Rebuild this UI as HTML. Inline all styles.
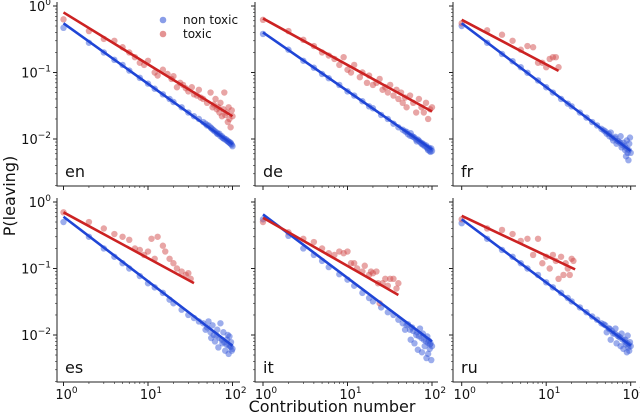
<!DOCTYPE html>
<html><head><meta charset="utf-8">
<style>
html,body{margin:0;padding:0;background:#fff;}
svg{display:block;font-family:"DejaVu Sans","Liberation Sans",sans-serif;}
</style></head>
<body>
<svg id="chart" width="640" height="414" viewBox="0 0 640 414" xmlns="http://www.w3.org/2000/svg">
<text x="0" y="0" transform="translate(15,196) rotate(-90)" text-anchor="middle" font-size="16" fill="#111">P(leaving)</text>
<text x="332" y="412" text-anchor="middle" font-size="16" fill="#111">Contribution number</text>
<g>
<circle cx="163" cy="20" r="3.3" fill="#3a5bd9" fill-opacity="0.6"/>
<text x="183" y="24" font-size="12" fill="#111">non toxic</text>
<circle cx="163" cy="34" r="3.3" fill="#d24b4b" fill-opacity="0.6"/>
<text x="183" y="38" font-size="12" fill="#111">toxic</text>
</g>
</svg>
<script>
const langs = ["en","de","fr","es","it","ru"];
const blueX = [1,2,3,4,5,6,8,10,12,15,18,20,25,30,35,40,45,50,55,60,65,70,75,80,85,90,95,100];
const blueY = {
 en:[.47,.28,.20,.155,.13,.107,.083,.068,.057,.047,.040,.036,.030,.025,.022,.020,.018,.016,.015,.0135,.0125,.012,.011,.0102,.0098,.0092,.0088,.0078],
 de:[.38,.22,.15,.118,.095,.082,.065,.052,.045,.037,.031,.029,.023,.020,.017,.015,.0138,.0128,.0112,.0108,.0098,.0094,.0085,.0083,.0080,.0073,.0070,.0066],
 fr:[.50,.28,.19,.148,.12,.099,.076,.060,.050,.040,.034,.031,.025,.021,.018,.016,.0142,.013,.012,.0105,.0102,.0093,.0088,.0081,.0078,.0072,.0068,.0062],
 es:[.50,.30,.20,.15,.12,.10,.077,.060,.052,.043,.034,.030,.024,.020,.018,.016,.015,.013,.011,.010,.0098,.0090,.0085,.0078,.0072,.0070,.0066,.0062],
 it:[.55,.31,.20,.16,.13,.105,.082,.068,.055,.043,.036,.032,.026,.022,.020,.017,.015,.014,.012,.0115,.010,.0096,.009,.0085,.008,.0076,.0072,.0068],
 ru:[.48,.28,.19,.15,.12,.10,.08,.062,.052,.043,.036,.032,.026,.022,.019,.017,.015,.014,.0125,.0115,.0105,.0098,.0092,.0086,.0080,.0076,.0072,.0068]
};
const tailX = [48,52,56,58,62,66,68,72,76,78,82,86,88,90,92,94,96,98];
const tailY = {
 en:[.017,.016,.0145,.014,.013,.012,.0118,.011,.0105,.0102,.0098,.0094,.0092,.009,.0088,.0086,.0084,.0082],
 de:[.013,.0118,.0122,.011,.0105,.0092,.0098,.009,.0087,.0082,.0078,.0076,.0072,.0068,.0074,.0066,.0064,.0072],
 fr:[.0135,.012,.011,.0125,.0095,.0108,.0085,.0092,.011,.0075,.0088,.0068,.0055,.0095,.0062,.0048,.0085,.0105],
 es:[.012,.016,.009,.014,.008,.012,.0065,.015,.0075,.011,.0058,.0085,.010,.0052,.0095,.0068,.0078,.0058],
 it:[.012,.0145,.0085,.013,.0075,.011,.006,.0125,.0055,.0105,.0068,.0045,.0095,.0052,.0082,.0062,.0075,.0042],
 ru:[.0145,.011,.0125,.0085,.0105,.0125,.0075,.0095,.0068,.0105,.0062,.0085,.0072,.0055,.0098,.0065,.0058,.0078]
};
const redX = {
 en:[1,2,3,4,5,6,7,8,9,10,12,13,15,17,19,20,22,24,26,28,30,33,35,38,40,42,45,50,55,58,60,63,65,68,70,72,75,78,80,82,85,88,90,92,95,98,100],
 de:[1,2,3,4,5,6,7,8,9,10,11,12,14,15,17,18,20,22,24,26,28,30,32,35,38,40,43,45,48,50,55,60,65,70,75,80,85,90,95,100],
 fr:[1,2,3,4,5,6,7,8,9,10,11,12,13,14],
 es:[1,2,3,4,5,6,7,8,9,10,11,12,13,15,16,18,20,22,25,28,30,32],
 it:[1,2,3,4,5,6,7,8,9,10,11,12,13,15,16,18,19,20,22,23,24,26,28,30,32,35,38,40],
 ru:[1,2,3,4,5,6,7,8,9,10,11,12,13,14,15,16,17,18,19,20,21]
};
const redY = {
 en:[.63,.42,.32,.30,.24,.20,.17,.14,.13,.15,.10,.09,.11,.095,.08,.088,.06,.07,.065,.058,.052,.06,.047,.045,.055,.042,.04,.035,.05,.03,.033,.04,.028,.03,.025,.035,.022,.028,.05,.023,.025,.018,.03,.02,.015,.027,.022],
 de:[.62,.42,.31,.25,.20,.18,.16,.13,.17,.11,.10,.13,.085,.10,.07,.09,.065,.07,.08,.055,.06,.05,.065,.045,.055,.04,.05,.035,.042,.03,.045,.035,.025,.04,.03,.025,.035,.02,.028,.03],
 fr:[.55,.43,.37,.30,.22,.25,.24,.14,.14,.12,.16,.17,.17,.12],
 es:[.70,.50,.40,.33,.30,.27,.20,.19,.16,.18,.28,.14,.30,.22,.18,.14,.12,.10,.09,.08,.085,.07],
 it:[.50,.35,.28,.25,.20,.17,.16,.18,.17,.18,.12,.12,.10,.09,.11,.08,.09,.085,.09,.06,.03,.06,.07,.055,.07,.07,.05,.06],
 ru:[.55,.40,.38,.33,.26,.28,.16,.28,.12,.15,.10,.16,.13,.07,.15,.08,.12,.10,.08,.14,.13]
};
const blueA = [.55,.40,.55,.60,.65,.55];
const blueB = [-.91,-.88,-.96,-.97,-.955,-.95];
const redA = [.80,.65,.62,.70,.58,.62];
const redB = [-.78,-.70,-.67,-.69,-.725,-.60];
const redXmax = [100,100,14,35,40,22];
const majorTicks = [1,10,100];
const yMajor = [1,0.1,0.01];
const tickLabels = ["0","1","2"];
const yTickLabels = ["0","−1","−2"];

const NS = "http://www.w3.org/2000/svg";
const svg = document.getElementById("chart");
const spineX = [57,255,453];
const x1 = [63.5,263,461.7];
const rowTop = [6,202];
const DX = 84.5, DY = 66.5, H = 180, W = 183;
function mk(tag, attrs, parent){const e=document.createElementNS(NS,tag);for(const k in attrs)e.setAttribute(k,attrs[k]);(parent||svg).appendChild(e);return e;}

langs.forEach((lang,i)=>{
  const c=i%3, r=Math.floor(i/3);
  const xs=v=>x1[c]+Math.log10(v)*DX;
  const ys=v=>rowTop[r]-Math.log10(v)*DY;
  const g=mk("g",{});
  
  
  const bot=rowTop[r]+H;
  const ax=mk("path",{d:`M${spineX[c]},${rowTop[r]-4}V${bot}H${spineX[c]+W}`,stroke:"#222","stroke-width":1,fill:"none"},g);
  
  
  for(let d=0;d<=2;d++){for(let m=1;m<=9;m++){const v=Math.pow(10,d)*m; if(v>100)break; const px=xs(v); if(px>spineX[c]+W)break;
    mk("line",{x1:px,x2:px,y1:bot,y2:bot+(m===1?4:2),stroke:"#222","stroke-width":m===1?1:0.6},g);}}
  for(let d=0;d>=-3;d--){for(let m=1;m<=9;m++){const v=Math.pow(10,d)*m; if(v>1.01)break; const py=ys(v); if(py>bot)continue;
    mk("line",{x1:spineX[c]-(m===1?4:2),x2:spineX[c],y1:py,y2:py,stroke:"#222","stroke-width":m===1?1:0.6},g);}}
  if(c===0){yMajor.forEach((v,k)=>{const t=mk("text",{x:spineX[c]-6,y:ys(v)+5,"text-anchor":"end","font-size":13,fill:"#111"},g);
    
    
    t.innerHTML=`10<tspan dy="-6" font-size="9">${yTickLabels[k]}</tspan>`;});}
  if(r===1){majorTicks.forEach((v,k)=>{const t=mk("text",{x:xs(v)+3,y:bot+17,"text-anchor":"middle","font-size":13,fill:"#111"},g);
    
    
    t.innerHTML=`10<tspan dy="-6" font-size="9">${tickLabels[k]}</tspan>`;});}
  blueX.forEach((v,k)=>{const p=mk("circle",{cx:xs(v),cy:ys(blueY[lang][k]),r:3.2,fill:"#3a5bd9","fill-opacity":0.5},g);
    
    });
  tailX.forEach((v,k)=>{const p=mk("circle",{cx:xs(v),cy:ys(tailY[lang][k]),r:3.2,fill:"#3a5bd9","fill-opacity":0.5},g);
    
    });
  redX[lang].forEach((v,k)=>{const p=mk("circle",{cx:xs(v),cy:ys(redY[lang][k]),r:3.2,fill:"#d24b4b","fill-opacity":0.5},g);
    
    });
  const bl=mk("line",{x1:xs(1),y1:ys(blueA[i]),x2:xs(100),y2:ys(blueA[i]*Math.pow(100,blueB[i])),stroke:"#1f45d6","stroke-width":2.6},g);
  
  
  const rl=mk("line",{x1:xs(1),y1:ys(redA[i]),x2:xs(redXmax[i]),y2:ys(redA[i]*Math.pow(redXmax[i],redB[i])),stroke:"#cc2222","stroke-width":2.6},g);
  
  
  const lab=mk("text",{x:spineX[c]+8,y:bot-9,"font-size":16,fill:"#111"},g);
  
  
  lab.textContent=lang;
});
</script>
</body></html>
